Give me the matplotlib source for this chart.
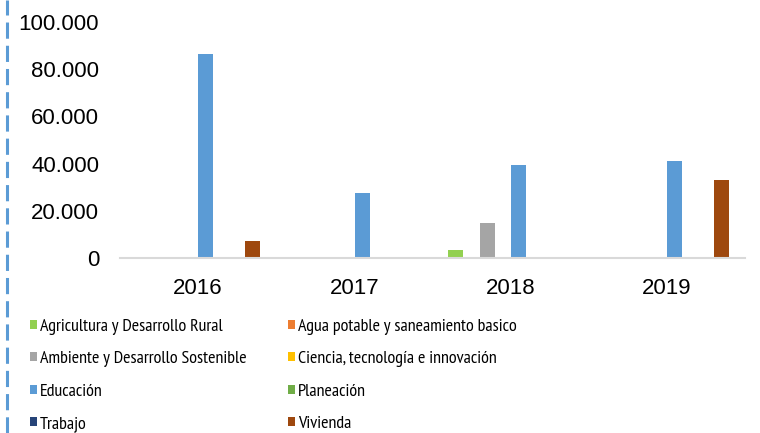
import matplotlib
matplotlib.use("Agg")
from matplotlib import pyplot as plt
from matplotlib.patches import Patch
from matplotlib.lines import Line2D
from matplotlib.ticker import FuncFormatter
import numpy as np

# datos
anios = ["2016", "2017", "2018", "2019"]
sectores = [
    "Agricultura y Desarrollo Rural",
    "Agua potable y saneamiento basico",
    "Ambiente y Desarrollo Sostenible",
    "Ciencia, tecnología e innovación",
    "Educación",
    "Planeación",
    "Trabajo",
    "Vivienda",
]
agricultura = [0, 0, 3400, 0]
agua = [0, 0, 0, 0]
ambiente = [0, 0, 14800, 0]
ciencia = [0, 0, 0, 0]
educacion = [86400, 27500, 39400, 41100]
planeacion = [0, 0, 0, 0]
trabajo = [0, 0, 0, 0]
vivienda = [7200, 0, 0, 33000]
valores = [agricultura, agua, ambiente, ciencia, educacion, planeacion, trabajo, vivienda]
colores = ["#92D050", "#ED7D31", "#A5A5A5", "#FFC000",
           "#5B9BD5", "#70AD47", "#264478", "#9E480E"]

fuente = ["Liberation Sans", "DejaVu Sans"]
fuente_leyenda = ["PT Sans Narrow", "Liberation Sans", "DejaVu Sans"]

fig = plt.figure(figsize=(7.6, 4.33), dpi=100)
ax = fig.add_axes([0.158, 0.404, 0.822, 0.545])

x = np.arange(len(anios))
ancho = 0.1
for i, (serie, color) in enumerate(zip(valores, colores)):
    ax.bar(x + (i - 3.5) * ancho, serie, width=ancho * 0.96, color=color, label=sectores[i])

ax.set_xlim(-0.5, 3.5)
ax.set_ylim(0, 100000)
ax.set_yticks(np.arange(0, 100001, 20000))
ax.yaxis.set_major_formatter(FuncFormatter(lambda v, p: "0" if v == 0 else f"{int(v):,}".replace(",", ".")))
ax.set_xticks(x)
ax.set_xticklabels(anios)
for lbl in ax.get_xticklabels() + ax.get_yticklabels():
    lbl.set_family(fuente)
    lbl.set_fontsize(16)
    lbl.set_color("#000000")
ax.tick_params(axis="both", length=0)
ax.tick_params(axis="y", pad=15)
ax.tick_params(axis="x", pad=14)
for s in ["left", "right", "top"]:
    ax.spines[s].set_visible(False)
ax.spines["bottom"].set_color("#D9D9D9")
ax.spines["bottom"].set_linewidth(1.5)

# leyenda en dos columnas
handles = [Patch(facecolor=c) for c in colores]
for col, xpos in [(0, 0.0395), (1, 0.379)]:
    idx = [col, col + 2, col + 4, col + 6]
    fig.legend([handles[k] for k in idx], [sectores[k] for k in idx],
               loc="upper left", bbox_to_anchor=(xpos, 0.263), frameon=False,
               prop={"family": fuente_leyenda, "size": 13},
               handlelength=0.4, handleheight=0.4, handletextpad=0.16,
               labelspacing=0.9, borderpad=0, borderaxespad=0)

# borde punteado a la izquierda
fig.add_artist(Line2D([0.0086, 0.0086], [0, 1], transform=fig.transFigure,
                      color="#5B9BD5", lw=2.2, linestyle=(0, (5.3, 2.3))))

fig.savefig("out.png", dpi=100)
